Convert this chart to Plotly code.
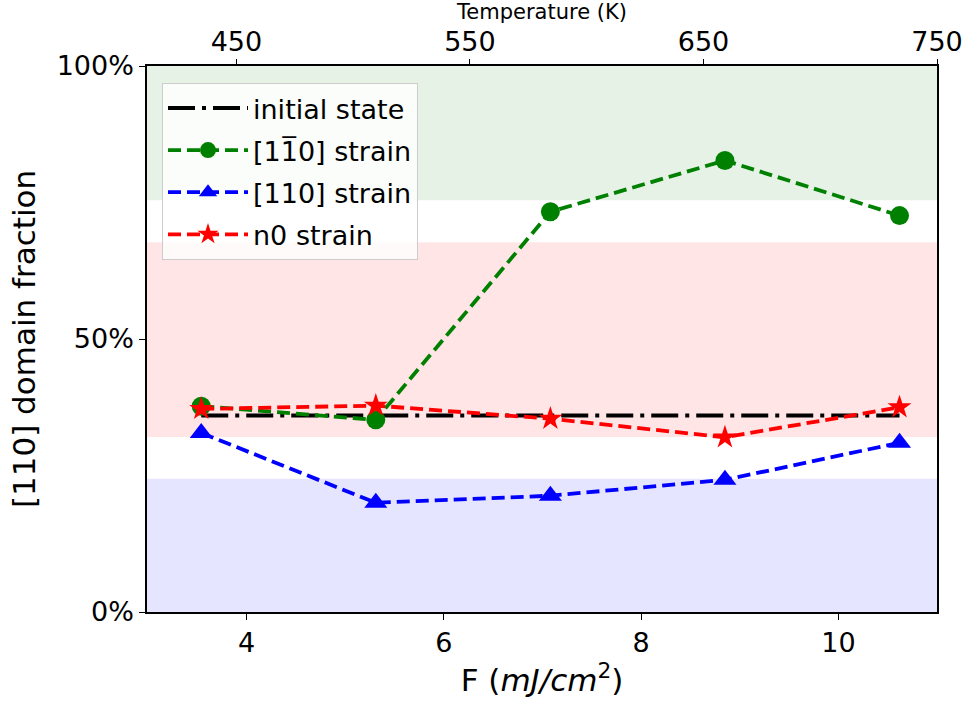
import plotly.graph_objects as go

# ---- data ----
fluence = [3.54, 5.31, 7.08, 8.85, 10.62]
initial_state = [0.36, 0.36, 0.36, 0.36, 0.36]
strain_1m10 = [0.377, 0.352, 0.733, 0.827, 0.726]
strain_110 = [0.328, 0.200, 0.213, 0.242, 0.310]
strain_n0 = [0.372, 0.378, 0.354, 0.320, 0.375]

temp_ticks = [450, 550, 650, 750]
temp_range = [411.7, 750]
x_ticks = [4, 6, 8, 10]
y_ticks = [0, 0.5, 1.0]
y_ticktext = ["0%", "50%", "100%"]

# shaded bands (y0, y1, colour)
bands = [
    (0.754, 1.0, "rgba(0,128,0,0.1)"),
    (0.3205, 0.677, "rgba(255,0,0,0.1)"),
    (0.0, 0.244, "rgba(0,0,255,0.1)"),
]

FONT = "DejaVu Sans"

fig = go.Figure()

fig.add_trace(go.Scatter(
    x=fluence, y=initial_state, mode="lines", name="initial state",
    line=dict(color="black", width=4, dash="27px,7px,4px,7px"),
    legendgroup="a"))
fig.add_trace(go.Scatter(
    x=fluence, y=strain_1m10, mode="lines+markers", name="[11\u03050] strain",
    line=dict(color="green", width=3.8, dash="13px,6px"),
    marker=dict(symbol="circle", size=19, color="green"),
    legendgroup="b"))
fig.add_trace(go.Scatter(
    x=fluence, y=strain_110, mode="lines+markers", name="[110] strain",
    line=dict(color="blue", width=3.8, dash="13px,6px"),
    marker=dict(symbol="triangle-up", size=20, color="blue"),
    legendgroup="c"))
fig.add_trace(go.Scatter(
    x=fluence, y=strain_n0, mode="lines+markers", name="n0 strain",
    line=dict(color="red", width=3.8, dash="13px,6px"),
    marker=dict(symbol="star", size=18, color="red"),
    legendgroup="d"))

# invisible trace to carry the top temperature axis
fig.add_trace(go.Scatter(
    x=temp_range, y=[0, 0], xaxis="x2", mode="markers",
    marker=dict(opacity=0), showlegend=False, hoverinfo="skip"))

for y0, y1, col in bands:
    fig.add_shape(type="rect", xref="paper", x0=0, x1=1, yref="y", y0=y0, y1=y1,
                  fillcolor=col, line=dict(width=0), layer="below")

fig.update_layout(
    width=963, height=702,
    margin=dict(l=147, r=26, t=66, b=90),
    plot_bgcolor="white", paper_bgcolor="white",
    font=dict(family=FONT, color="black"),
    showlegend=True,
    legend=dict(
        x=0.019, y=0.969, xanchor="left", yanchor="top",
        bgcolor="rgba(255,255,255,0.8)", bordercolor="#cccccc", borderwidth=1,
        font=dict(family=FONT, size=27, color="black"),
        traceorder="grouped", tracegroupgap=4, itemwidth=80),
    xaxis=dict(
        range=[2.99, 11.0], tickvals=x_ticks, ticks="outside", ticklen=6,
        tickwidth=1.3, tickcolor="black", showline=True, linecolor="black",
        linewidth=1.5, mirror=True, showgrid=False, zeroline=False,
        automargin=False, tickfont=dict(size=27),
        title=dict(text="F (<i>mJ/cm</i><sup>2</sup>)", font=dict(size=31), standoff=12)),
    xaxis2=dict(
        overlaying="x", side="top", anchor="y", range=temp_range,
        tickvals=temp_ticks, ticks="outside", ticklen=6, tickwidth=1.3,
        tickcolor="black", showline=False, showgrid=False, zeroline=False,
        automargin=False, tickfont=dict(size=27), ticklabelstandoff=-3,
        title=dict(text="Temperature (K)", font=dict(size=21), standoff=4)),
    yaxis=dict(
        range=[0, 1.0], tickvals=y_ticks, ticktext=y_ticktext, ticks="outside",
        ticklen=6, tickwidth=1.3, tickcolor="black", showline=True,
        linecolor="black", linewidth=1.5, mirror=True, showgrid=False,
        zeroline=False, automargin=False, tickfont=dict(size=27),
        title=dict(text="[110] domain fraction", font=dict(size=31), standoff=12)),
)

fig.write_html("out.html")
